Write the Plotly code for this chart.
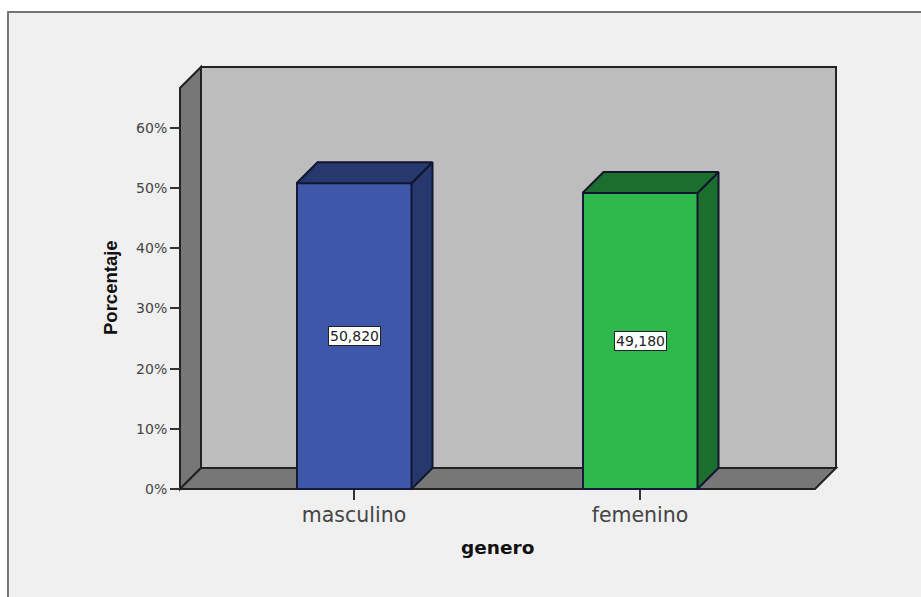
import plotly.graph_objects as go

categories = ["masculino", "femenino"]
values = [50.82, 49.18]
value_labels = ["50,820", "49,180"]
y_ticks = [0, 10, 20, 30, 40, 50, 60]
y_tick_labels = ["0%", "10%", "20%", "30%", "40%", "50%", "60%"]
front_colors = ["#3f57a8", "#2fb84b"]
dark_colors = ["#27386f", "#1b6e2e"]

W, H = 921, 597
PX_L, PX_R, PX_B, PX_T = 170, 846, 499, 57   # plot frame in pixels, 10px beyond the box
AX_L, WALL_R, FLOOR_Y, WALL_T = 180, 836, 489, 67
PX_PER_CAT = 286.0
PX_PER_PCT = 6.017
CAT0_PX = 354
DEPTH = 21
dx = DEPTH / PX_PER_CAT
dy = DEPTH / PX_PER_PCT
bar_w = 115 / PX_PER_CAT

def xd(px):
    return (px - CAT0_PX) / PX_PER_CAT

def yd(px):
    return (FLOOR_Y - px) / PX_PER_PCT

x_pos = list(range(len(categories)))
LINE = "#222222"

fig = go.Figure()
fig.add_trace(go.Bar(x=x_pos, y=values, width=bar_w, marker=dict(color=front_colors, line=dict(color="#15193a", width=2)), showlegend=False, hoverinfo="skip"))

for i, v in enumerate(values):
    l, r = i - bar_w / 2, i + bar_w / 2
    fig.add_trace(go.Scatter(x=[r, r + dx, r + dx, r, r], y=[0, dy, v + dy, v, 0], mode="lines", fill="toself",
                             fillcolor=dark_colors[i], line=dict(color="#11152e", width=2), showlegend=False, hoverinfo="skip"))
    fig.add_trace(go.Scatter(x=[l, l + dx, r + dx, r, l], y=[v, v + dy, v + dy, v, v], mode="lines", fill="toself",
                             fillcolor=dark_colors[i], line=dict(color="#11152e", width=2), showlegend=False, hoverinfo="skip"))
    fig.add_annotation(x=i, y=v / 2, text=value_labels[i], showarrow=False, bgcolor="white", bordercolor="#222222",
                       borderwidth=1, borderpad=1, font=dict(family="DejaVu Sans", size=14, color="#222222"))

x0, x1 = xd(AX_L), xd(WALL_R)
top = yd(WALL_T)
def poly(pts, fill):
    path = "M " + " L ".join(f"{a},{b}" for a, b in pts) + " Z"
    fig.add_shape(type="path", path=path, fillcolor=fill, line=dict(color=LINE, width=2), layer="below", xref="x", yref="y")

pw = PX_R - PX_L
ph = PX_B - PX_T
# panel background with border, beyond the page on right and bottom
fig.add_shape(type="rect", xref="paper", yref="paper", layer="below",
              x0=(8 - PX_L) / pw, x1=(W + 20 - PX_L) / pw, y0=(PX_B - (H + 20)) / ph, y1=(PX_B - 12) / ph,
              fillcolor="#f0f0f0", line=dict(color="#777777", width=2))
poly([(x0 + dx, dy), (x1, dy), (x1, top), (x0 + dx, top)], "#bdbdbd")
poly([(x0, 0), (x0 + dx, dy), (x0 + dx, top), (x0, top - dy)], "#777777")
poly([(x0, 0), (x1 - dx, 0), (x1, dy), (x0 + dx, dy)], "#777777")

# axis titles centred on the box, not on the enlarged plot frame
fig.add_annotation(xref="x", yref="paper", x=xd(497), y=(PX_B - 547) / ph, text="<b>genero</b>", showarrow=False,
                   xanchor="center", yanchor="middle",
                   font=dict(family="DejaVu Sans", size=18.5, color="#111111"))
fig.add_annotation(xref="paper", yref="y", x=(110 - PX_L) / pw, y=yd(288), text="<b>Porcentaje</b>", textangle=-90, showarrow=False,
                   xanchor="center", yanchor="middle",
                   font=dict(family="Liberation Sans", size=18.5, color="#111111"))

fig.update_layout(
    width=W, height=H, margin=dict(l=PX_L, r=W - PX_R, t=PX_T, b=H - PX_B, autoexpand=False),
    paper_bgcolor="white", plot_bgcolor="rgba(0,0,0,0)", showlegend=False, bargap=0,
    xaxis=dict(range=[xd(PX_L), xd(PX_R)], tickmode="array", tickvals=x_pos, ticktext=categories, ticks="outside",
               ticklen=10, tickwidth=2, tickcolor="#333333", showgrid=False, zeroline=False, showline=False,
               tickfont=dict(family="DejaVu Sans", size=20.5, color="#444444"), anchor="free",
               position=(PX_B - FLOOR_Y) / ph, ticklabelstandoff=-3),
    yaxis=dict(range=[yd(PX_B), yd(PX_T)], tickmode="array", tickvals=y_ticks, ticktext=y_tick_labels, ticks="outside",
               ticklen=10, tickwidth=2, tickcolor="#333333", showgrid=False, zeroline=False, showline=False,
               tickfont=dict(family="DejaVu Sans", size=14, color="#444444"), anchor="free",
               position=(AX_L - PX_L) / pw),
)
fig.write_html("out.html", config=dict(displayModeBar=False), post_script="document.body.style.margin='0';")
